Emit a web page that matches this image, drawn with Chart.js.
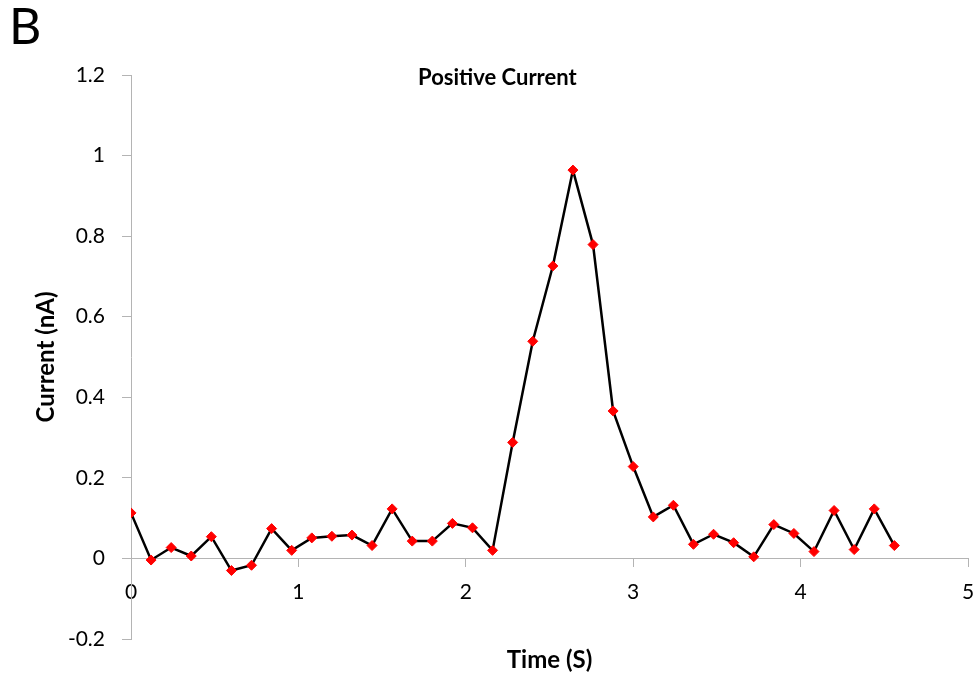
<!DOCTYPE html>
<html>
<head>
<meta charset="utf-8">
<script src="https://cdn.jsdelivr.net/npm/chart.js@4"></script>
<style>
  body { margin: 0; background: #fff; }
  #wrap { position: relative; width: 979px; height: 677px; }
  #panel { position: absolute; left: 9px; top: 0px; font: 50px/1 Lato, sans-serif; color: #000; }
</style>
</head>
<body>
<div id="wrap">
  <canvas id="currentChart" width="979" height="677"></canvas>
  <div id="panel">B</div>
</div>
<script>
// Time (s) of each sample
let times = [0, 0.12, 0.24, 0.36, 0.48, 0.6, 0.72, 0.84, 0.96, 1.08, 1.2, 1.32, 1.44,
    1.56, 1.68, 1.8, 1.92, 2.04, 2.16, 2.28, 2.4, 2.52, 2.64, 2.76, 2.88, 3.0,
    3.12, 3.24, 3.36, 3.48, 3.6, 3.72, 3.84, 3.96, 4.08, 4.2, 4.32, 4.44, 4.56];

// Positive current (nA)
let currents = [0.113, -0.004, 0.027, 0.006, 0.054, -0.030, -0.017, 0.074, 0.020, 0.051,
    0.055, 0.058, 0.032, 0.123, 0.043, 0.043, 0.087, 0.076, 0.020, 0.288,
    0.539, 0.726, 0.964, 0.779, 0.366, 0.228, 0.103, 0.132, 0.035, 0.060,
    0.039, 0.004, 0.084, 0.062, 0.017, 0.119, 0.022, 0.123, 0.032];

let xRange = [0, 5];
let yRange = [-0.2, 1.2];

let axisGrey = '#b4b4b4';
let tickFont = {family: 'Lato', size: 21};
// tall line box pushes the x labels down without adding side padding
let xTickFont = {family: 'Lato', size: 21, lineHeight: 2.45};
let titleFont = {family: 'Lato', size: 24, weight: 'bold'};

let points = times.map((t, i) => ({x: t, y: currents[i]}));

// excel style labels: 1, 0.8, 0, -0.2
let fmtTick = function (v) {
    let s = Number(v.toFixed(1));
    return s === 0 ? '0' : String(s);
};

let ctx = document.getElementById('currentChart').getContext('2d');

window.currentLine = new Chart(ctx, {
    type: 'line',
    data: {
        datasets: [{
            label: 'Positive Current',
            data: points,
            borderColor: '#000',
            borderWidth: 2.5,
            tension: 0,
            pointStyle: 'rectRot',
            pointRadius: 5,
            pointBorderWidth: 1,
            pointBackgroundColor: '#ff0000',
            pointBorderColor: '#ff0000'
        }]
    },
    options: {
        responsive: false,
        animation: false,
        layout: {padding: {left: 0, right: 11, top: 0, bottom: 0}},
        plugins: {
            legend: {display: false},
            tooltip: {enabled: false},
            title: {
                display: true,
                text: '     Positive Current',
                color: '#000',
                font: {family: 'Lato', size: 22, weight: 'bold', lineHeight: 1.2},
                padding: {top: 65, bottom: -16.4}
            }
        },
        scales: {
            x: {
                type: 'linear',
                position: {y: 0},
                min: xRange[0],
                max: xRange[1],
                ticks: {stepSize: 1, color: '#000', font: xTickFont, padding: 0},
                grid: {display: true, drawOnChartArea: false, drawTicks: true, tickLength: 8, color: axisGrey},
                border: {display: true, color: axisGrey, width: 1}
            },
            x2: {
                type: 'linear',
                position: 'bottom',
                min: 0,
                max: 1,
                ticks: {display: false},
                grid: {display: false},
                border: {display: false},
                title: {display: true, text: 'Time (S)', color: '#000', font: titleFont, padding: {top: 0, bottom: 2}},
                afterFit: function (scale) { scale.height = 38; }
            },
            y: {
                type: 'linear',
                position: 'left',
                min: yRange[0],
                max: yRange[1],
                ticks: {stepSize: 0.2, color: '#000', font: tickFont, padding: 17, callback: fmtTick},
                grid: {display: true, drawOnChartArea: false, drawTicks: true, tickLength: 9, color: axisGrey},
                border: {display: true, color: axisGrey, width: 1},
                title: {display: true, text: 'Current (nA)', color: '#000', font: titleFont, padding: {top: 32, bottom: 0}},
                afterFit: function (scale) { scale.width = 131; }
            }
        }
    }
});
</script>
</body>
</html>
